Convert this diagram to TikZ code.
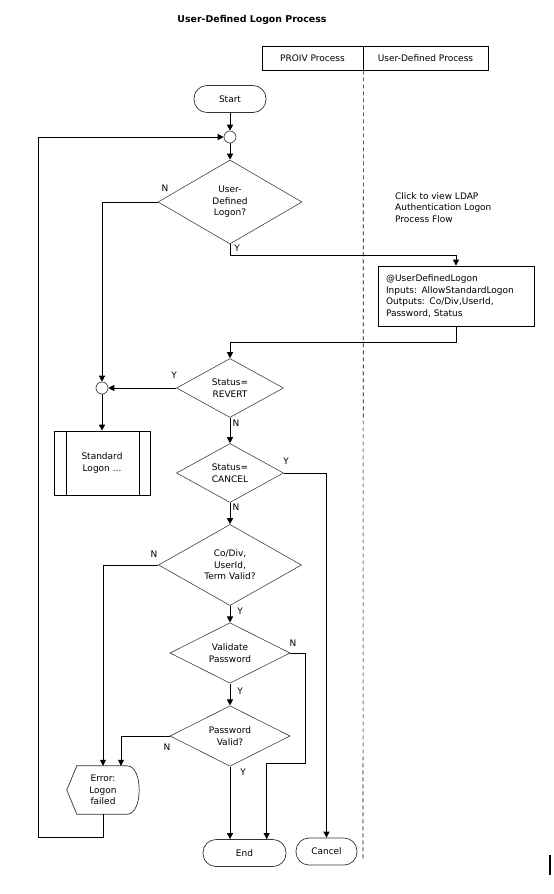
\documentclass[tikz,border=0pt]{standalone}
\usepackage{fontspec}
\setmainfont{DejaVu Sans}
\usetikzlibrary{shapes.geometric,arrows.meta,calc}
\begin{document}
\begin{tikzpicture}[x=1pt,y=-1pt,
  font=\fontsize{9}{11.5}\selectfont,
  line/.style={draw=black,line width=0.7pt},
  arr/.style={line,-{Triangle[length=6pt,width=6pt]}},
  dec/.style={draw=black!75,line width=0.6pt,shape=diamond,inner sep=0pt,align=center},
  term/.style={draw=black!80,line width=0.7pt,rectangle,rounded corners=13pt,minimum height=27pt,inner sep=0pt},
  box/.style={draw=black,line width=0.7pt,rectangle,inner sep=0pt},
  lab/.style={inner sep=0pt},
  junc/.style={circle,draw=black!80,line width=0.6pt,minimum size=12pt,inner sep=0pt,fill=white}
]
\useasboundingbox (0,0) rectangle (554,894);
% title and header
\node[lab,font=\fontsize{9.4}{11.5}\selectfont\bfseries] (title) at (252,20) {User-Defined Logon Process};
\node[box,minimum width=101pt,minimum height=24pt] (h1) at (312.5,58) {PROIV Process};
\node[box,minimum width=125pt,minimum height=24pt] (h2) at (425.5,58) {User-Defined Process};
\coordinate (dashend) at (363,860);
\draw[line width=0.6pt,dash pattern=on 4pt off 3pt] (h1.south east) -- (dashend);
% nodes
\node[term,minimum width=72pt] (start) at (230,99) {Start};
\node[junc] (j1) at (230,137) {};
\node[dec,minimum width=144pt,minimum height=84pt] (d1) at (230,202) {User-\\Defined\\Logon?};
\node[box,minimum width=156pt,minimum height=60pt,text width=140pt,align=left] (udl) at (456,296) {@UserDefinedLogon\\Inputs: AllowStandardLogon\\Outputs: Co/Div,UserId,\\Password, Status};
\node[lab,anchor=north west,align=left] (click) at (395,192) {Click to view LDAP\\Authentication Logon\\Process Flow};
\node[dec,minimum width=107pt,minimum height=59pt] (d2) at (230,388) {Status=\\REVERT};
\node[junc] (j2) at (102,388) {};
\node[box,minimum width=96pt,minimum height=64pt,align=center] (std) at (102,463) {Standard\\Logon ...};
\draw[line width=0.7pt] ($(std.north west)+(13,0)$) -- ($(std.south west)+(13,0)$);
\draw[line width=0.7pt] ($(std.north east)+(-11,0)$) -- ($(std.south east)+(-11,0)$);
\node[dec,minimum width=107pt,minimum height=59pt] (d3) at (230,473) {Status=\\CANCEL};
\node[dec,minimum width=143pt,minimum height=80pt] (d4) at (230,565) {Co/Div,\\UserId,\\Term Valid?};
\node[dec,minimum width=120pt,minimum height=59pt] (d5) at (230,653) {Validate\\Password};
\node[dec,minimum width=120pt,minimum height=60pt] (d6) at (230,736) {Password\\Valid?};
\node[term,minimum width=83pt] (end) at (244.5,853) {End};
\node[term,minimum width=61pt] (cancel) at (326.5,851.5) {Cancel};
\node[inner sep=0pt,minimum width=72pt,minimum height=48pt,align=center] (err) at (103,790) {Error:\\Logon\\failed};
\draw[draw=black!80,line width=0.7pt] (err.west) -- ($(err.north west)+(10,0)$) -- ($(err.north east)+(-12,0)$)
  .. controls ($(err.north east)+(4,0)$) and ($(err.south east)+(4,0)$) .. ($(err.south east)+(-12,0)$)
  -- ($(err.south west)+(10,0)$) -- cycle;
\coordinate (loopc) at (38,137);
% connectors
\draw[arr] (start) -- (j1);
\draw[arr] (j1) -- (d1);
\draw[arr] (d1.south) -- ++(0,11) -| (udl.north);
\draw[arr] (d1.west) -| (j2);
\draw[arr] (udl.south) -- ++(0,16) -| (d2.north);
\draw[arr] (d2.west) -- (j2);
\draw[arr] (j2) -- (std);
\draw[arr] (d2) -- (d3);
\draw[arr] (d3.east) -| (cancel.north);
\draw[arr] (d3) -- (d4);
\draw[arr] (d4.west) -| (err.north);
\draw[arr] (d4) -- (d5);
\draw[arr] (d5.east) -| ++(15,110) -| ($(end.north west)+(64,0)$);
\draw[arr] (d5) -- (d6);
\draw[arr] (d6.west) -| ($(err.north)+(18,0)$);
\draw[arr] (d6.south) -- (d6.south |- end.north);
\draw[arr] (err.south) -- ++(0,23) -| (loopc) -- (j1);
% branch labels
\node[lab] at (165,188) {N};
\node[lab] at (237,248) {Y};
\node[lab] at (174,375) {Y};
\node[lab] at (236,423) {N};
\node[lab] at (286,461) {Y};
\node[lab] at (236,507) {N};
\node[lab] at (154,554) {N};
\node[lab] at (240,611) {Y};
\node[lab] at (293,643) {N};
\node[lab] at (240,691) {Y};
\node[lab] at (167,747) {N};
\node[lab] at (243,772) {Y};
% cursor mark
\coordinate (cur1) at (550,855);
\coordinate (cur2) at (550,875);
\draw[line width=1.6pt] (cur1) -- (cur2);
\end{tikzpicture}
\end{document}
